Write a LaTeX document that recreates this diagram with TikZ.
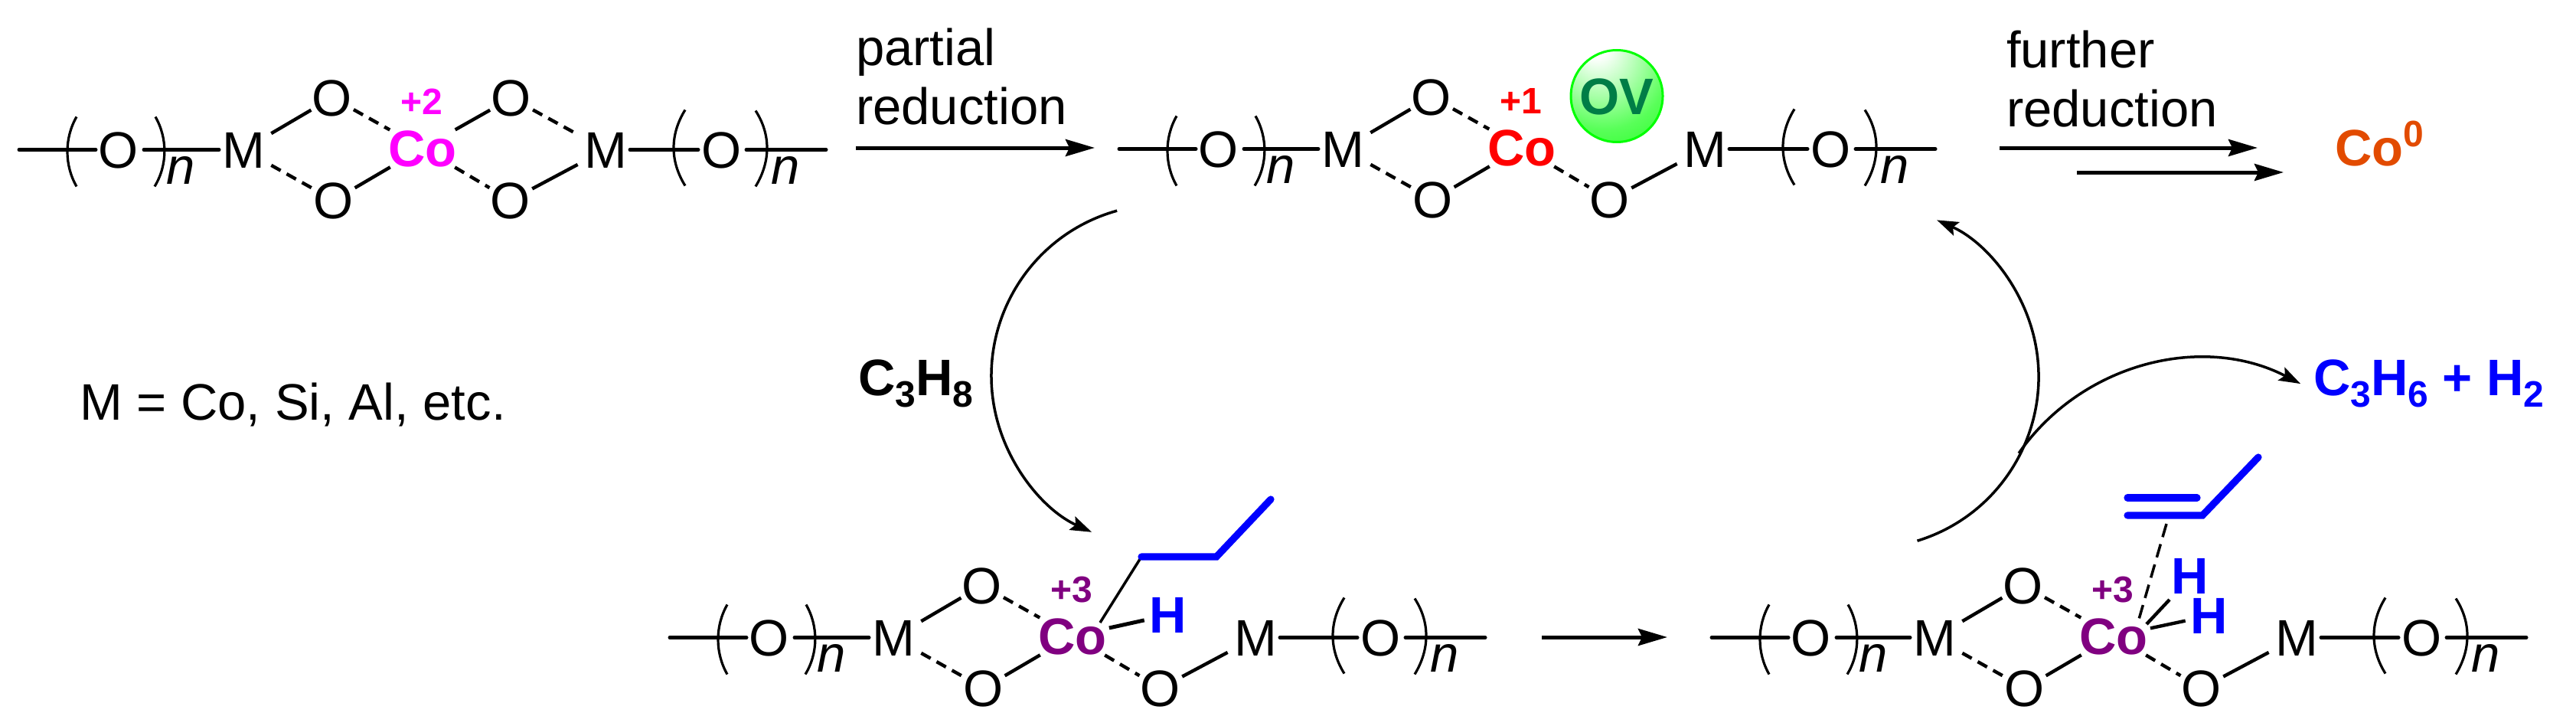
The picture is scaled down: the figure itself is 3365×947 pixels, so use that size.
\documentclass[tikz,border=0pt]{standalone}
\usepackage{fontspec}
\setmainfont{Liberation Sans}
\usetikzlibrary{arrows.meta}
\definecolor{cofuchsia}{RGB}{255,0,255}
\definecolor{cored}{RGB}{255,0,0}
\definecolor{copurple}{RGB}{128,0,128}
\definecolor{coorange}{RGB}{226,75,0}
\definecolor{ovgreen}{RGB}{0,125,70}
\definecolor{ballrim}{RGB}{0,255,0}
\pgfdeclareradialshading{ovball}{\pgfpoint{-12bp}{29bp}}{%
  color(0bp)=(white);color(6bp)=(white);
  color(22bp)=(ballrim!35!white);color(35bp)=(ballrim!65!white);
  color(55bp)=(ballrim!90!white);color(70bp)=(ballrim);color(85bp)=(ballrim)}
\newcommand\bigfont{\fontsize{33.5}{38.5}\selectfont}
\newcommand\smallbold{\fontsize{24}{24}\selectfont\bfseries}
\newcommand\atxt[1]{\smash{\makebox[0pt]{\raisebox{-.358em}{#1}}}}
\newcommand\subd[1]{\raisebox{-7.5pt}{\fontsize{24}{24}\selectfont #1}}
\tikzset{
  atomO/.style={circle,inner sep=0pt,outer sep=0pt,minimum size=32pt,font=\bigfont},
  atomM/.style={rectangle,inner sep=0pt,outer sep=0pt,minimum width=32pt,minimum height=32pt,font=\bigfont},
  atomCo/.style={circle,inner sep=0pt,outer sep=0pt,minimum size=49pt,font=\bigfont\bfseries},
  atomH/.style={atomO,font=\bigfont\bfseries,text=blue},
  oxlabel/.style={inner sep=0pt,outer sep=0pt,font=\smallbold},
  nlabel/.style={anchor=base,inner sep=0pt,outer sep=0pt,font=\bigfont\itshape},
  txt/.style={anchor=base west,inner sep=0pt,outer sep=0pt,font=\bigfont},
  txtb/.style={txt,font=\bigfont\bfseries},
  bond/.style={line width=2.5pt,line cap=round},
  sbond/.style={line width=2.2pt},
  dbond/.style={line width=2.2pt,dash pattern=on 7pt off 4.5pt},
  brack/.style={line width=1.6pt},
  thin bond/.style={line width=1.75pt},
  thin dash/.style={line width=1.75pt,dash pattern=on 9pt off 4.8pt},
  blueb/.style={line width=4.6pt,draw=blue,line cap=round,line join=miter},
  rxn/.style={line width=2.5pt,-{Stealth[length=19pt,width=11pt,inset=2.5pt]}},
  arcarrow/.style={line width=1.75pt,-{Stealth[length=14pt,width=9.5pt,inset=2.5pt]}},
  fromM/.style={shorten <=2.5pt},
  toM/.style={shorten >=2.5pt}
}
% core ring: prefix, M x, y, colour, oxidation label
\newcommand\core[5]{%
 \begin{scope}[shift={(#2,#3)}]
  \node[atomM] (#1M) at (0,0) {\atxt{M}};
  \node[atomO] (#1Ot) at (116,-68) {\atxt{O}};
  \node[atomO] (#1Ob) at (118,66) {\atxt{O}};
  \node[atomCo,text=#4] (#1Co) at (234,-2) {\atxt{Co}};
  \node[oxlabel,text=#4] (#1ox) at (233,-63) {\atxt{#5}};
  \node[atomM] (#1Mr) at (473,0) {\atxt{M}};
  \node[atomO] (#1Oc) at (349,66) {\atxt{O}};
  \draw[sbond,fromM] (#1M) -- (#1Ot);
  \draw[dbond] (#1Ot) -- (#1Co);
  \draw[dbond,fromM] (#1M) -- (#1Ob);
  \draw[sbond] (#1Ob) -- (#1Co);
  \draw[dbond] (#1Co) -- (#1Oc);
  \draw[sbond,toM] (#1Oc) -- (#1Mr);
 \end{scope}}
% left chain: prefix, O x, y
\newcommand\chainL[3]{%
 \begin{scope}[shift={(#2,#3)}]
  \node[atomO] (#1LO) at (0,0) {\atxt{O}};
  \coordinate (#1La) at (-130,0);
  \coordinate (#1Lb) at (-30,0);
  \coordinate (#1Lc) at (33,0);
  \draw[bond] (#1La) -- (#1Lb);
  \draw[bond] (#1Lc) -- (#1M);
  \draw[brack] (-55,-43) .. controls (-71,-15) and (-71,20) .. (-55,48);
  \draw[brack] (48,-43) .. controls (64,-15) and (64,20) .. (47,48);
  \node[nlabel] (#1Ln) at (81,45) {n};
 \end{scope}}
% right chain: prefix, O x, y
\newcommand\chainR[3]{%
 \begin{scope}[shift={(#2,#3)}]
  \node[atomO] (#1RO) at (0,0) {\atxt{O}};
  \coordinate (#1Rb) at (-31,0);
  \coordinate (#1Rc) at (32,0);
  \coordinate (#1Rd) at (136,0);
  \draw[bond] (#1Mr) -- (#1Rb);
  \draw[bond] (#1Rc) -- (#1Rd);
  \draw[brack] (-48,-52) .. controls (-68,-20) and (-68,15) .. (-48,47);
  \draw[brack] (44,-51) .. controls (64,-20) and (64,15) .. (44,48);
  \node[nlabel] (#1Rn) at (83,45) {n};
 \end{scope}}
\begin{document}
\begin{tikzpicture}[x=.5pt,y=-.5pt]
\useasboundingbox (0,0) rectangle (3365,947);
% molecule 1
\core{a}{318}{195.5}{cofuchsia}{+2}
\chainL{a}{155}{195.5}
\chainR{a}{943}{195.5}
\node[atomO] (aOt2) at (668,128) {\atxt{O}};
\draw[sbond] (aCo) -- (aOt2);
\draw[dbond,toM] (aOt2) -- (aMr);
% molecule 2
\node[circle,shading=ovball,draw=ballrim,line width=1.5pt,inner sep=0pt,minimum size=60pt,
      text=ovgreen,font=\bigfont\bfseries] (ov) at (2112,125.5) {\atxt{OV}};
\core{b}{1754}{194.5}{cored}{+1}
\chainL{b}{1592}{194.5}
\chainR{b}{2392}{194.5}
% molecule 3
\core{c}{1167}{832.5}{copurple}{+3}
\chainL{c}{1005}{832.5}
\chainR{c}{1804}{832.5}
\node[atomH] (cH) at (1526,803) {\atxt{H}};
\draw[bond,line cap=butt] (cCo) -- (cH);
\coordinate (cb) at (1437,813);
\coordinate (cp1) at (1491,727);
\coordinate (cp2) at (1589,727);
\coordinate (cp3) at (1660,652);
\draw[thin bond] (cb) -- (cp1);
\draw[blueb] (cp1) -- (cp2) -- (cp3);
% molecule 4
\node[atomH] (dH1) at (2861,752) {\atxt{H}};
\node[atomH] (dH2) at (2886,804) {\atxt{H}};
\core{d}{2527}{832.5}{copurple}{+3}
\chainL{d}{2366}{832.5}
\chainR{d}{3164}{832.5}
\coordinate (db1) at (2804,815);
\coordinate (db2) at (2834,783);
\draw[sbond] (db1) -- (db2);
\draw[sbond] (dCo) -- (dH2);
\coordinate (dA) at (2779,673);
\coordinate (dB) at (2877,673);
\coordinate (dC) at (2950,597);
\coordinate (dD) at (2779,650);
\coordinate (dE) at (2870,650);
\coordinate (dF) at (2830,684);
\coordinate (dG) at (2793,812);
\draw[blueb] (dA) -- (dB) -- (dC);
\draw[blueb] (dD) -- (dE);
\draw[thin dash] (dF) -- (dG);
% texts
\node[txt,align=left,anchor=south west] (t1) at (1118,163) {partial\\reduction};
\node[txt,align=left,anchor=south west] (t2) at (2621,166) {further\\reduction};
\node[txt] (t3) at (104,548) {M = Co, Si, Al, etc.};
\node[txtb] (t4) at (1121,516) {C\subd{3}H\subd{8}};
\node[txtb,text=blue] (t5) at (3022,516) {C\subd{3}H\subd{6} + H\subd{2}};
\node[txtb,text=coorange] (t6) at (3050,216) {Co\raisebox{12.5pt}{\fontsize{24}{24}\selectfont 0}};
% reaction arrows
\coordinate (r1a) at (1118,193); \coordinate (r1b) at (1430,193);
\coordinate (r2a) at (2612,193); \coordinate (r2b) at (2949,193);
\coordinate (r3a) at (2713,225); \coordinate (r3b) at (2983,225);
\coordinate (r4a) at (2014,832); \coordinate (r4b) at (2178,832);
\draw[rxn] (r1a) -- (r1b);
\draw[rxn] (r2a) -- (r2b);
\draw[rxn] (r3a) -- (r3b);
\draw[rxn] (r4a) -- (r4b);
% curved arrows
\coordinate (arcA) at ({1519+224*cos(254.5)},{491+224*sin(254.5)});
\coordinate (arcB) at ({2439+224*cos(73)},{492+224*sin(73)});
\coordinate (arcC) at ({2873+288*cos(215)},{757+288*sin(215)});
\draw[arcarrow] (arcA) arc[start angle=254.5,end angle=114.5,radius=224];
\draw[arcarrow] (arcB) arc[start angle=73,end angle=-66,radius=224];
\draw[arcarrow] (arcC) arc[start angle=215,end angle=297.3,radius=288];
\end{tikzpicture}
\end{document}
